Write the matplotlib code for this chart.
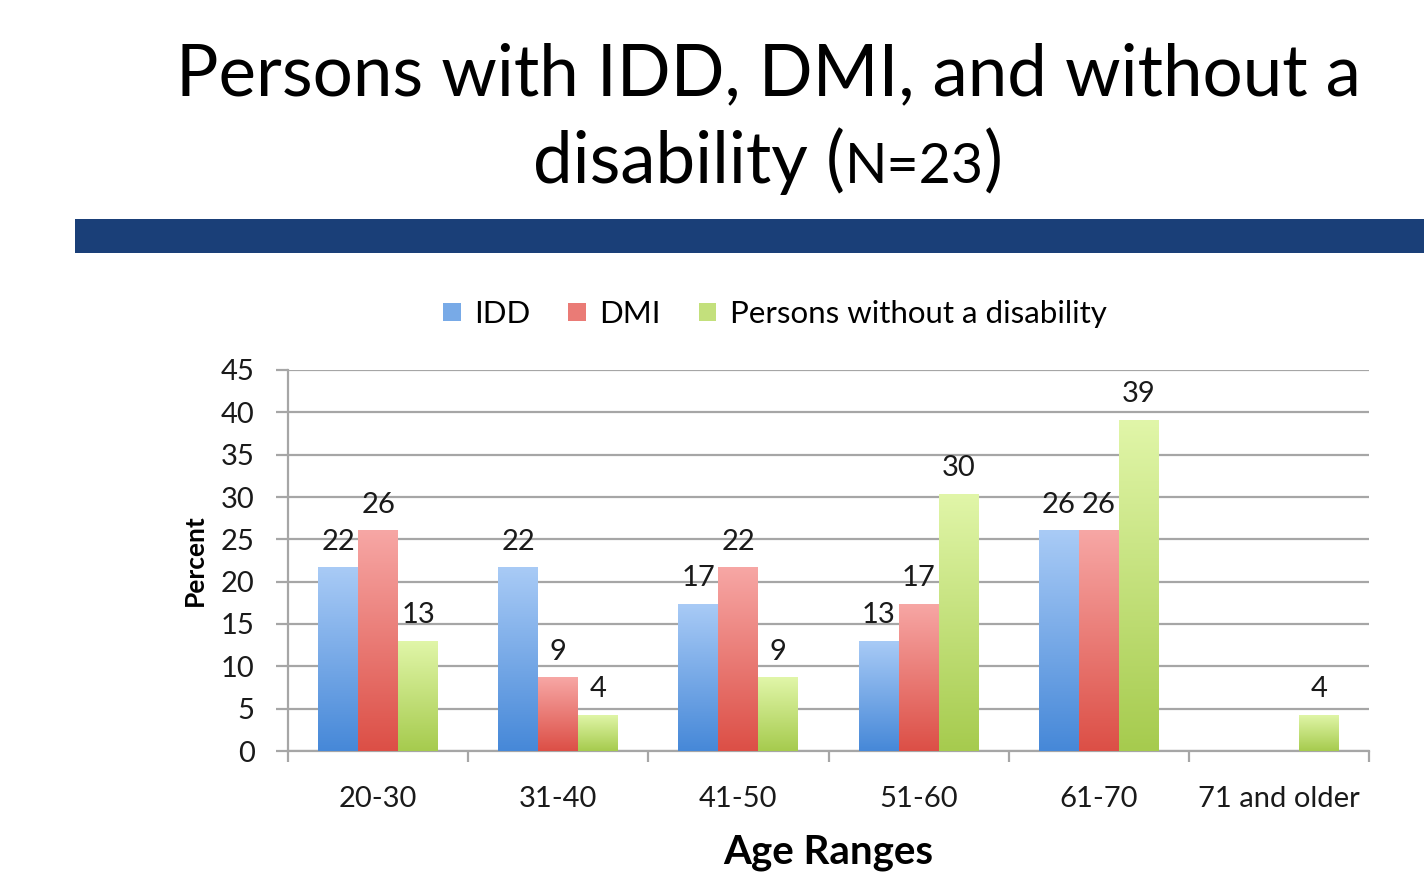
import matplotlib
matplotlib.use("Agg")
import matplotlib.pyplot as plt
import numpy as np
from matplotlib.colors import LinearSegmentedColormap, to_rgb, to_hex
from matplotlib.patches import Rectangle, Patch

# Age groups and percentage of each group (N=23)
age_ranges = ["20-30", "31-40", "41-50", "51-60", "61-70", "71 and older"]
idd = [21.7, 21.7, 17.4, 13.0, 26.1, 0.0]
dmi = [26.1, 8.7, 21.7, 17.4, 26.1, 0.0]
no_disability = [13.0, 4.3, 8.7, 30.4, 39.1, 4.3]
series_names = ["IDD", "DMI", "Persons without a disability"]
y_ticks = list(range(0, 50, 5))

# (top colour, bottom colour) for each series' vertical gradient
gradients = [
    ("#a9cbf6", "#4688d8"),
    ("#f7a7a5", "#dc4f46"),
    ("#e1f6a9", "#a6cb4e"),
]

body_font = "Lato"
W, H = 1424, 874
fig = plt.figure(figsize=(W / 100, H / 100), dpi=100)
fig.patch.set_facecolor("white")
renderer = fig.canvas.get_renderer()

# Title, first line
fig.text(768 / W, 1 - 95 / H, "Persons with IDD, DMI, and without a",
         ha="center", va="baseline", fontsize=51, family=body_font, color="black")

# Title, second line: big word, big parentheses, smaller "N=23"
pieces = [("disability ", 51), ("(", 51), ("N=23", 40), (")", 51)]
texts = []
for s, size in pieces:
    t = fig.text(0, 1 - 183 / H, s, ha="left", va="baseline", fontsize=size,
                 family=body_font, color="black")
    texts.append(t)
widths = [t.get_window_extent(renderer).width for t in texts]
x_cursor = 768 - sum(widths) / 2
for t, w in zip(texts, widths):
    t.set_x(x_cursor / W)
    x_cursor += w

# Navy banner under the title
fig.patches.append(Rectangle((75 / W, 1 - 253 / H), 1 - 75 / W, 34 / H,
                             transform=fig.transFigure, facecolor="#1a3f78",
                             edgecolor="none", zorder=1))

ax = fig.add_axes([288 / W, 1 - 751 / H, (1369 - 288) / W, (751 - 370) / H])
ax.set_xlim(-0.5, len(age_ranges) - 0.5)
ax.set_ylim(0, 45)

x = np.arange(len(age_ranges))
width = 0.222
grad = np.linspace(0, 1, 256).reshape(-1, 1)

for k, (vals, (top, bot)) in enumerate(zip([idd, dmi, no_disability], gradients)):
    cmap = LinearSegmentedColormap.from_list(f"g{k}", [bot, top])
    bars = ax.bar(x + (k - 1) * width, vals, width, color="none",
                  edgecolor="none", zorder=3)
    for b, v in zip(bars, vals):
        if v <= 0:
            continue
        x0, y0 = b.get_x(), b.get_y()
        w, h = b.get_width(), b.get_height()
        im = ax.imshow(grad, cmap=cmap, origin="lower", aspect="auto",
                       extent=(x0, x0 + w, y0, y0 + h), zorder=3,
                       interpolation="bilinear")
        im.set_clip_path(b)
        ax.annotate(f"{v:.0f}", (x0 + w / 2, y0 + h), xytext=(0, 9),
                    textcoords="offset points", ha="center", va="bottom",
                    fontsize=21, family=body_font, color="#1a1a1a", zorder=4)

ax.set_xlim(-0.5, len(age_ranges) - 0.5)
ax.set_ylim(0, 45)

# Gridlines, spines and ticks
ax.set_yticks(y_ticks)
ax.yaxis.grid(True, color="#a6a6a6", linewidth=1.6, zorder=0)
ax.set_axisbelow(True)
for s in ["top", "right"]:
    ax.spines[s].set_visible(False)
for s in ["left", "bottom"]:
    ax.spines[s].set_color("#a6a6a6")
    ax.spines[s].set_linewidth(1.6)
ax.tick_params(axis="y", length=9, width=1.6, color="#a6a6a6", pad=15,
               labelsize=21, labelcolor="#1a1a1a")
ax.set_yticklabels([str(t) for t in y_ticks], family=body_font)

ax.set_xticks(x)
ax.set_xticklabels(age_ranges, family=body_font, fontsize=21, color="#1a1a1a")
ax.tick_params(axis="x", which="major", length=0, pad=25)
ax.set_xticks(np.arange(-0.5, len(age_ranges)), minor=True)
ax.tick_params(axis="x", which="minor", length=8, width=1.6, color="#a6a6a6")

ax.set_ylabel("Percent", family=body_font, fontsize=19, fontweight="bold",
              labelpad=10)
ax.set_xlabel("Age Ranges", family=body_font, fontsize=29, fontweight="bold",
              labelpad=16)

handles = [Patch(facecolor=to_hex(0.5 * np.array(to_rgb(t)) + 0.5 * np.array(to_rgb(b))),
                 edgecolor="none", label=n)
           for (t, b), n in zip(gradients, series_names)]
fig.legend(handles=handles, loc="center", bbox_to_anchor=(775 / W, 1 - 314 / H),
           ncol=3, frameon=False, prop={"family": body_font, "size": 22.5},
           handlelength=0.55, handleheight=0.55, handletextpad=0.45,
           columnspacing=1.2)

fig.savefig("out.png", dpi=100, facecolor="white")
